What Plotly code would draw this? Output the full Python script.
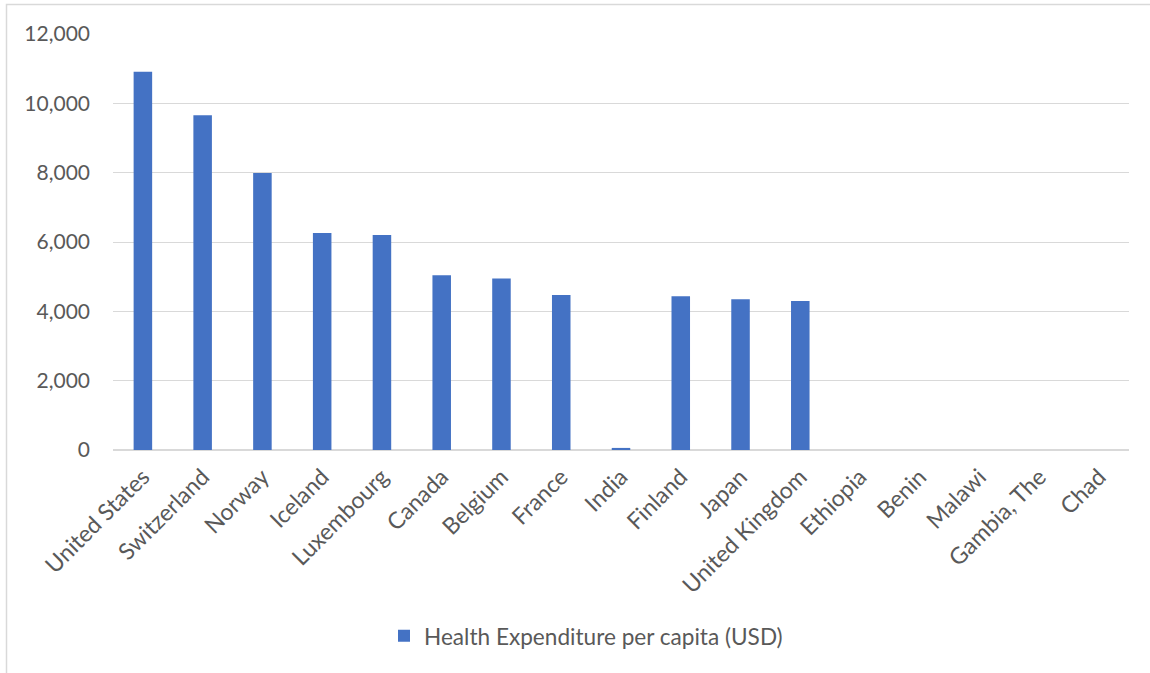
import plotly.graph_objects as go

countries = ["United States", "Switzerland", "Norway", "Iceland", "Luxembourg",
             "Canada", "Belgium", "France", "India", "Finland", "Japan",
             "United Kingdom", "Ethiopia", "Benin", "Malawi", "Gambia, The", "Chad"]
expenditure = [10910, 9655, 7990, 6260, 6200, 5040, 4950, 4470, 60, 4435, 4345,
               4300, 0, 0, 0, 0, 0]
series_name = "Health Expenditure per capita (USD)"
y_ticks = [0, 2000, 4000, 6000, 8000, 10000, 12000]

W, H = 1150, 673
L, R, T, B = 113, 21, 34, 223
pw, ph = W - L - R, H - T - B

def px_x(px):
    return (px - L) / pw

def px_y(py):
    return (H - B - py) / ph

FONT = "Lato, 'Open Sans', sans-serif"
TXT = "#595959"
GRID = "#D9D9D9"

fig = go.Figure(go.Bar(
    x=countries, y=expenditure, name=series_name,
    marker=dict(color="#4472C4", line=dict(color="#4472C4", width=0)),
    showlegend=True,
))

fig.update_layout(
    width=W, height=H,
    margin=dict(l=L, r=R, t=T, b=B, pad=0),
    paper_bgcolor="white", plot_bgcolor="white",
    font=dict(family=FONT, size=21, color=TXT),
    bargap=0.69,
    showlegend=True,
    legend=dict(orientation="h", x=px_x(384), xanchor="left",
                y=px_y(636), yanchor="middle",
                font=dict(family=FONT, size=22.6, color=TXT),
                itemwidth=30, bgcolor="rgba(0,0,0,0)"),
    xaxis=dict(tickangle=-45, showgrid=False, showline=False, ticks="",
               tickfont=dict(family=FONT, size=23, color=TXT),
               ticklabelstandoff=8),
    yaxis=dict(range=[0, 12000], tickvals=y_ticks, tickformat=",",
               showgrid=True, gridcolor=GRID, gridwidth=1.3,
               zeroline=True, zerolinecolor=GRID, zerolinewidth=1.5,
               showline=False, ticks="",
               tickfont=dict(family=FONT, size=21, color=TXT),
               ticklabelstandoff=22),
    shapes=[dict(type="rect", xref="paper", yref="paper",
                 x0=px_x(6.5), x1=px_x(1200), y0=px_y(720), y1=px_y(4.5),
                 line=dict(color=GRID, width=1.5), fillcolor="rgba(0,0,0,0)",
                 layer="below")],
)

fig.write_html("out.html", config={"displayModeBar": False},
               post_script="document.body.style.margin='0';")
